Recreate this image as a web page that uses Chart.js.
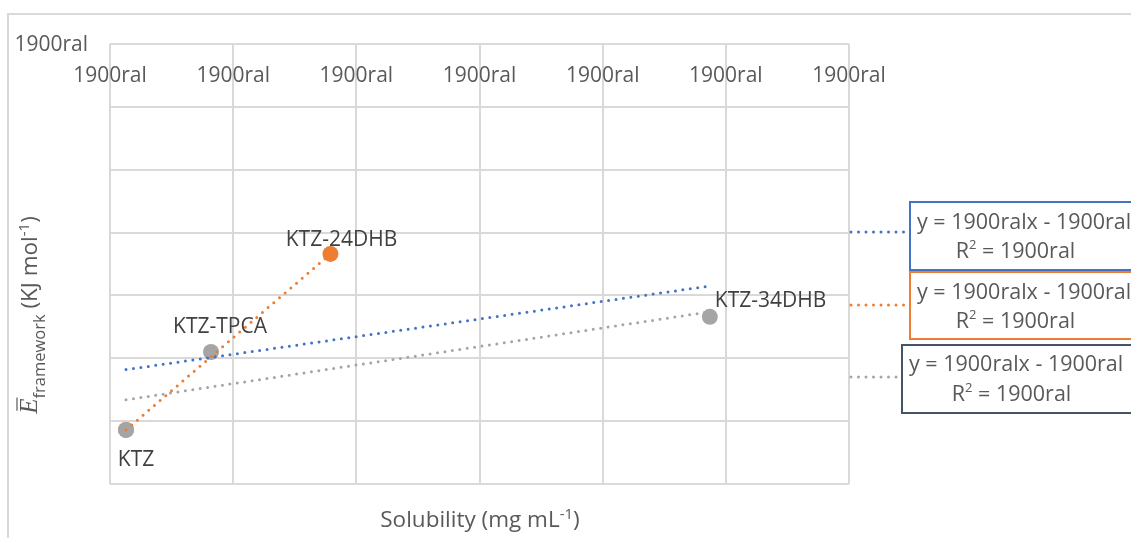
<!DOCTYPE html>
<html><head><meta charset="utf-8">
<script src="https://cdn.jsdelivr.net/npm/chart.js@4"></script>
<style>html,body{margin:0;padding:0;background:#fff;} canvas{display:block;}</style>
</head><body>
<canvas id="c" width="1131" height="538"></canvas>
<script>
// ---- data ----
const categories = ['KTZ', 'KTZ-TPCA', 'KTZ-24DHB', 'KTZ-34DHB'];
const solubility = [1.3, 8.2, 17.9, 48.7];
const energy = [-61.4, -49.0, -33.4, -43.4];
const orangeMembers = ['KTZ', 'KTZ-24DHB'];
const grayMembers = ['KTZ', 'KTZ-TPCA', 'KTZ-34DHB'];
// trendline end points
const trendAllX = [1.3, 48.7];
const trendAllY = [-51.8, -38.5];
const trendGrayX = [1.3, 48.7];
const trendGrayY = [-56.6, -42.6];
const trendOrangeX = [1.3, 17.9];
const trendOrangeY = [-61.4, -33.4];
// tick labels as printed
const xTickLabels = ['1900ral', '1900ral', '1900ral', '1900ral', '1900ral', '1900ral', '1900ral'];
const yTickLabels = ['1900ral'];
// trendline equation labels (blue, orange, gray)
const eqText = ['y = 1900ralx - 1900ral', 'y = 1900ralx - 1900ral', 'y = 1900ralx - 1900ral'];
const r2Text = ['1900ral', '1900ral', '1900ral'];
const xMin = 0, xMax = 60, xStep = 10;
const yMin = -70, yMax = 0, yStep = 10;

const BLUE = '#4472C4', ORANGE = '#ED7D31', GRAY = '#A5A5A5', DARK = '#44546A';
const TXT = '#595959', LBL = '#404040', GRID = '#D9D9D9';
const FONT = '"Open Sans", "Liberation Sans", sans-serif';

function pts(names) {
  return names.map(n => { const i = categories.indexOf(n); return {x: solubility[i], y: energy[i], label: n}; });
}
function line(xs, ys) { return xs.map((x, i) => ({x: x, y: ys[i]})); }

const dotted = {showLine: true, pointRadius: 0, borderWidth: 3, borderDash: [0, 7.5], borderCapStyle: 'round', fill: false, pointHoverRadius: 0};

function drawRuns(ctx, runs, startX, baseY) {
  let x = startX;
  runs.forEach(r => {
    ctx.font = r.f;
    ctx.fillText(r.t, x, baseY + (r.dy || 0));
    const w = ctx.measureText(r.t).width;
    if (r.bar) {
      ctx.save();
      ctx.strokeStyle = ctx.fillStyle; ctx.lineWidth = 1.2;
      ctx.beginPath(); ctx.moveTo(x + 3, baseY - r.bar); ctx.lineTo(x + w + 1, baseY - r.bar); ctx.stroke();
      ctx.restore();
    }
    x += w;
  });
}
function runsWidth(ctx, runs) {
  let w = 0; runs.forEach(r => { ctx.font = r.f; w += ctx.measureText(r.t).width; }); return w;
}

const overlay = {
  id: 'overlay',
  beforeDraw(chart) {
    const ctx = chart.ctx;
    ctx.save();
    ctx.fillStyle = '#fff'; ctx.fillRect(0, 0, chart.width, chart.height);
    ctx.strokeStyle = GRID; ctx.lineWidth = 2;
    ctx.strokeRect(8, 14, 1140, 540);
    ctx.restore();
  },
  afterDraw(chart) {
    const ctx = chart.ctx, xs = chart.scales.x, ys = chart.scales.y;
    ctx.save();
    // x tick labels (inside, under the top axis line)
    ctx.fillStyle = TXT; ctx.font = '21px ' + FONT; ctx.textBaseline = 'middle'; ctx.textAlign = 'center';
    xs.ticks.forEach((t, i) => ctx.fillText(xTickLabels[i] || '', xs.getPixelForValue(t.value), ys.top + 32));
    // y tick label (only top one shown)
    ctx.textAlign = 'right';
    ctx.fillText(yTickLabels[0], xs.left - 22, ys.getPixelForValue(yMax) + 1);

    // data labels
    ctx.fillStyle = LBL; ctx.font = '21px ' + FONT;
    const off = {'KTZ': [10, 30, 'center'], 'KTZ-TPCA': [9, -25, 'center'], 'KTZ-24DHB': [11, -14, 'center'], 'KTZ-34DHB': [5, -16, 'left']};
    categories.forEach((n, i) => {
      const px = xs.getPixelForValue(solubility[i]), py = ys.getPixelForValue(energy[i]);
      const o = off[n];
      ctx.textAlign = o[2];
      ctx.fillText(n, px + o[0], py + o[1]);
    });

    // trendline label leaders + boxes
    const boxes = [
      {c: BLUE, lx: 912, ly: 232, left: 910, top: 202, bottom: 270, tx: 917, y1: 223, y2: 252},
      {c: ORANGE, lx: 913, ly: 305, left: 910, top: 272, bottom: 339, tx: 917, y1: 293, y2: 322},
      {c: GRAY, bc: DARK, lx: 905, ly: 377, left: 902, top: 345, bottom: 413, tx: 909, y1: 365, y2: 395}
    ];
    boxes.forEach((b, i) => {
      ctx.save();
      ctx.strokeStyle = b.c; ctx.lineWidth = 3; ctx.lineCap = 'round'; ctx.setLineDash([0, 7.5]);
      ctx.beginPath(); ctx.moveTo(xs.right + 2, b.ly); ctx.lineTo(b.lx, b.ly); ctx.stroke();
      ctx.restore();
      ctx.fillStyle = '#fff';
      ctx.fillRect(b.left, b.top, 1140 - b.left, b.bottom - b.top);
      ctx.strokeStyle = b.bc || b.c; ctx.lineWidth = 2;
      ctx.strokeRect(b.left, b.top, 1140 - b.left, b.bottom - b.top);
      ctx.fillStyle = TXT; ctx.textAlign = 'left'; ctx.textBaseline = 'middle';
      ctx.font = '21.5px ' + FONT;
      ctx.fillText(eqText[i], b.tx, b.y1);
      const runs = [{t: 'R', f: '21.5px ' + FONT}, {t: '2', f: '13px ' + FONT, dy: -7}, {t: ' = ' + r2Text[i], f: '21.5px ' + FONT}];
      const w = runsWidth(ctx, runs);
      const cx = b.left + (1131 + 100 - b.left) / 2 - 55;
      drawRuns(ctx, runs, cx - w / 2, b.y2);
    });

    // x axis title
    ctx.fillStyle = TXT; ctx.textAlign = 'left'; ctx.textBaseline = 'alphabetic';
    const xr = [{t: 'Solubility (mg mL', f: '22.5px ' + FONT}, {t: '-1', f: '15px ' + FONT, dy: -8}, {t: ')', f: '22.5px ' + FONT}];
    const xw = runsWidth(ctx, xr);
    drawRuns(ctx, xr, 480 - xw / 2, 527);

    // y axis title
    ctx.save();
    ctx.translate(37, 315);
    ctx.rotate(-Math.PI / 2);
    const yr = [
      {t: 'E', f: 'italic 25px "Liberation Serif", serif', bar: 20},
      {t: 'framework', f: '16.5px ' + FONT, dy: 8},
      {t: ' (KJ mol', f: '22.5px ' + FONT},
      {t: '-1', f: '15px ' + FONT, dy: -8},
      {t: ')', f: '22.5px ' + FONT}
    ];
    const yw = runsWidth(ctx, yr);
    drawRuns(ctx, yr, -yw / 2, 0);
    ctx.restore();
    ctx.restore();
  }
};

new Chart(document.getElementById('c'), {
  type: 'scatter',
  data: {
    datasets: [
      Object.assign({label: 'trend all', data: line(trendAllX, trendAllY), borderColor: BLUE, order: 1}, dotted),
      Object.assign({label: 'trend orange', data: line(trendOrangeX, trendOrangeY), borderColor: ORANGE, order: 2}, dotted),
      Object.assign({label: 'trend gray', data: line(trendGrayX, trendGrayY), borderColor: GRAY, order: 3}, dotted),
      {label: 'gray', data: pts(grayMembers), backgroundColor: GRAY, borderColor: GRAY, pointRadius: 8, borderWidth: 0, order: 5},
      {label: 'orange', data: pts(orangeMembers), backgroundColor: ORANGE, borderColor: ORANGE, pointRadius: 8, borderWidth: 0, order: 6}
    ]
  },
  options: {
    responsive: false,
    animation: false,
    events: [],
    layout: {padding: {left: 110, top: 44, right: 282, bottom: 54}},
    plugins: {legend: {display: false}, tooltip: {enabled: false}},
    scales: {
      x: {
        type: 'linear', position: 'top', min: xMin, max: xMax,
        ticks: {stepSize: xStep, display: false},
        grid: {color: GRID, lineWidth: 2, drawTicks: false},
        border: {display: false},
        afterFit: s => { s.height = 0; }
      },
      y: {
        type: 'linear', min: yMin, max: yMax,
        ticks: {stepSize: yStep, display: false},
        grid: {color: GRID, lineWidth: 2, drawTicks: false},
        border: {display: false},
        afterFit: s => { s.width = 0; }
      }
    }
  },
  plugins: [overlay]
});
</script>
</body></html>
